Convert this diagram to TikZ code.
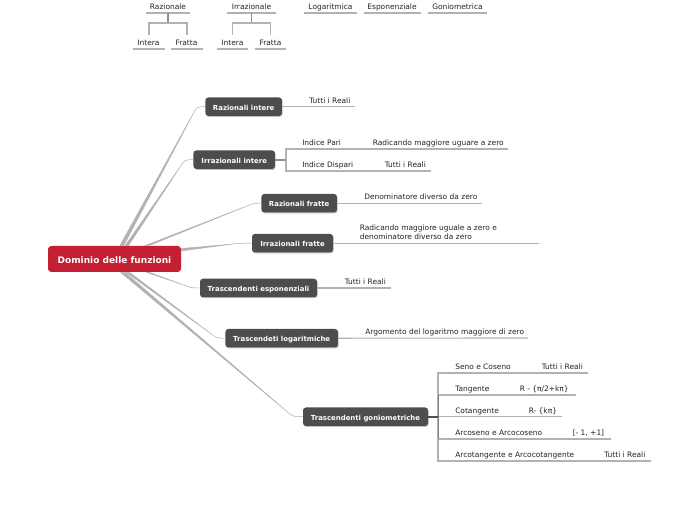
\documentclass[tikz,border=0pt]{standalone}
\usepackage{fontspec}
\setmainfont{DejaVu Sans}
\usetikzlibrary{calc,shadows}
\definecolor{rootred}{HTML}{C41F33}
\definecolor{boxgray}{HTML}{4D4D4D}
\definecolor{linegray}{HTML}{B2B2B2}
\definecolor{txt}{HTML}{222222}
\def\pxu{0.75pt}
\tikzset{
  mainbox/.style={fill=boxgray,text=white,rounded corners=2.2pt,inner sep=0pt,
    text height=5.6pt,text depth=0.2pt,
    font=\bfseries\fontsize{5.2}{6}\selectfont,
    drop shadow={shadow xshift=0.5pt,shadow yshift=-0.7pt,opacity=.25,fill=black}},
  rootbox/.style={fill=rootred,text=white,rounded corners=2.5pt,inner sep=0pt,
    text height=6.4pt,text depth=0pt,
    font=\bfseries\fontsize{6.75}{8}\selectfont},
  leaf/.style={anchor=mid west,inner sep=0pt,text=txt,font=\fontsize{5.6}{6.5}\selectfont},
  topleaf/.style={anchor=mid,inner sep=0pt,text=txt,font=\fontsize{5.6}{6.5}\selectfont},
  wire/.style={draw=linegray,line width=0.85pt},
  stem/.style={draw=linegray!80!black,line width=1.4pt},
  taper/.style={fill=linegray,draw=linegray,line width=0.35pt,line join=round}
}
% #1 start on the root, #2 bend, #3 child anchor, #4 half width vector
\newcommand{\taperline}[4]{%
  \path[taper] ($#1+#4$) -- ($#2!6pt!#1$) .. controls #2 .. #3
     .. controls #2 .. ($#2!6pt!#1$) -- ($#1-#4$) -- cycle;}
\begin{document}
\begin{tikzpicture}[x=0.75pt,y=-0.75pt]
\useasboundingbox[fill=white] (0,0) rectangle (697,520);

% root and branches
\node[rootbox,minimum width=133*\pxu,minimum height=26*\pxu] (root) at (114.5,259) {Dominio delle funzioni};
\node[mainbox,minimum width=76.5*\pxu,minimum height=18.5*\pxu] (b1) at (243.7,106.7) {Razionali intere};
\node[mainbox,minimum width=81.5*\pxu,minimum height=18.5*\pxu] (b2) at (234.2,159.7) {Irrazionali intere};
\node[mainbox,minimum width=75.5*\pxu,minimum height=18.5*\pxu] (b3) at (299.2,203.2) {Razionali fratte};
\node[mainbox,minimum width=81*\pxu,minimum height=18.5*\pxu] (b4) at (292.5,243.2) {Irrazionali fratte};
\node[mainbox,minimum width=117*\pxu,minimum height=18.5*\pxu] (b5) at (258.5,288) {Trascendenti esponenziali};
\node[mainbox,minimum width=112.5*\pxu,minimum height=18.5*\pxu] (b6) at (281.7,338.2) {Trascendeti logaritmiche};
\node[mainbox,minimum width=125*\pxu,minimum height=18.5*\pxu] (b7) at (365.5,416.7) {Trascendenti goniometriche};

\taperline{($(root.north west)+(74,0)$)}{(197,106.7)}{(b1.west)}{(1.9,0)}
\taperline{($(root.north west)+(79,0)$)}{(185,159.7)}{(b2.west)}{(1.7,0)}
\taperline{($(root.north west)+(99,0)$)}{(254,203.2)}{(b3.west)}{(1.9,0)}
\taperline{($(root.north east)+(0,4)$)}{(240,243.2)}{(b4.west)}{(0,1.2)}
\taperline{($(root.south west)+(100,0)$)}{(192,288)}{(b5.west)}{(1.4,0)}
\taperline{($(root.south west)+(80,0)$)}{(217,338.2)}{(b6.west)}{(1.7,0)}
\taperline{($(root.south west)+(75,0)$)}{(293,416.7)}{(b7.west)}{(2.2,0)}

% Razionali intere
\node[leaf] (l1) at (309,99.8) {Tutti i Reali};
\coordinate (e1) at (355,106.7);
\draw[wire] (b1.east) -- (e1);

% Irrazionali intere
\coordinate (j2) at (286,159.7);
\coordinate (j2t) at (286,149);
\coordinate (j2b) at (286,171);
\coordinate (e2t) at (508,149);
\coordinate (e2b) at (431,171);
\draw[stem] (b2.east) -- (j2);
\draw[wire] (e2t) -- (j2t) -- (j2b) -- (e2b);
\node[leaf] (l2a) at (302,141.8) {Indice Pari};
\node[leaf] (l2b) at (372.5,141.8) {Radicando maggiore uguare a zero};
\node[leaf] (l2c) at (302,163.8) {Indice Dispari};
\node[leaf] (l2d) at (384.5,163.8) {Tutti i Reali};

% Razionali fratte
\coordinate (e3) at (482,203.2);
\draw[wire] (b3.east) -- (e3);
\node[leaf] (l3) at (364,196.3) {Denominatore diverso da zero};

% Irrazionali fratte
\coordinate (e4) at (539,243.2);
\draw[wire] (b4.east) -- (e4);
\node[leaf] (l4a) at (359.5,227.3) {Radicando maggiore uguale a zero e};
\node[leaf] (l4b) at (359.5,236) {denominatore diverso da zero};

% Esponenziali
\coordinate (e5) at (391,288);
\draw[wire] (b5.east) -- (e5);
\node[leaf] (l5) at (344.5,281.3) {Tutti i Reali};

% Logaritmiche
\coordinate (e6) at (528,338);
\draw[wire] (b6.east) -- (e6);
\node[leaf] (l6) at (365,331) {Argomento del logaritmo maggiore di zero};

% Goniometriche
\coordinate (j7) at (438,416.7);
\coordinate (j7t) at (438,373);
\coordinate (j7b) at (438,461);
\coordinate (j7c) at (438,395);
\coordinate (j7d) at (438,439);
\coordinate (e7a) at (588,373);
\coordinate (e7b) at (576,395);
\coordinate (e7c) at (562,416.7);
\coordinate (e7d) at (611,439);
\coordinate (e7e) at (651,461);
\draw[wire] (e7a) -- (j7t) -- (j7b) -- (e7e);
\draw[wire] (j7c) -- (e7b);
\draw[wire] (j7) -- (e7c);
\draw[wire] (j7d) -- (e7d);
\draw[stem,draw=boxgray] (b7.east) -- (j7);
\draw[draw=boxgray!70,line width=0.75pt] (j7c) -- (j7d);
\node[leaf] (g1a) at (455,365.8) {Seno e Coseno};
\node[leaf] (g1b) at (541.5,365.8) {Tutti i Reali};
\node[leaf] (g2a) at (455,387.8) {Tangente};
\node[leaf] (g2b) at (519.5,387.8) {R - \{π/2+kπ\}};
\node[leaf] (g3a) at (455,409.8) {Cotangente};
\node[leaf] (g3b) at (528.5,409.8) {R- \{kπ\}};
\node[leaf] (g4a) at (455,431.8) {Arcoseno e Arcocoseno};
\node[leaf] (g4b) at (572.5,431.8) {[- 1, +1]};
\node[leaf] (g5a) at (455,453.8) {Arcotangente e Arcocotangente};
\node[leaf] (g5b) at (604,453.8) {Tutti i Reali};

% top group
\node[topleaf] (ta) at (168,5.8) {Razionale};
\node[topleaf] (tb) at (148.5,41.8) {Intera};
\node[topleaf] (tc) at (186.5,41.8) {Fratta};
\node[topleaf] (td) at (251.5,5.8) {Irrazionale};
\node[topleaf] (te) at (232.5,41.8) {Intera};
\node[topleaf] (tf) at (270.5,41.8) {Fratta};
\node[topleaf] (tg) at (330.5,5.8) {Logaritmica};
\node[topleaf] (th) at (392,5.8) {Esponenziale};
\node[topleaf] (ti) at (457.5,5.8) {Goniometrica};

\coordinate (ua1) at (146,13); \coordinate (ua2) at (190,13); \coordinate (ua) at (168,13);
\coordinate (ja) at (168,23); \coordinate (jb) at (149,23); \coordinate (jc) at (187,23);
\coordinate (ub) at (149,35); \coordinate (uc) at (187,35);
\coordinate (ub1) at (133,49); \coordinate (ub2) at (164.5,49);
\coordinate (uc1) at (171,49); \coordinate (uc2) at (202.5,49);
\draw[wire] (ua1) -- (ua2);
\draw[stem] (ua) -- (ja);
\draw[wire] (ub) -- (jb) -- (jc) -- (uc);
\draw[wire] (ub1) -- (ub2);
\draw[wire] (uc1) -- (uc2);

\coordinate (ud1) at (227,13); \coordinate (ud2) at (276,13); \coordinate (ud) at (251.5,13);
\coordinate (jd) at (251.5,23); \coordinate (je) at (232.5,23); \coordinate (jf) at (270.5,23);
\coordinate (ue) at (232.5,35); \coordinate (uf) at (270.5,35);
\coordinate (ue1) at (217,49); \coordinate (ue2) at (248,49);
\coordinate (uf1) at (255,49); \coordinate (uf2) at (286,49);
\draw[wire] (ud1) -- (ud2);
\draw[stem] (ud) -- (jd);
\draw[wire] (ue) -- (je) -- (jf) -- (uf);
\draw[wire] (ue1) -- (ue2);
\draw[wire] (uf1) -- (uf2);

\coordinate (ug1) at (304,13); \coordinate (ug2) at (357,13);
\coordinate (uh1) at (364,13); \coordinate (uh2) at (421,13);
\coordinate (ui1) at (428,13); \coordinate (ui2) at (487,13);
\draw[wire] (ug1) -- (ug2);
\draw[wire] (uh1) -- (uh2);
\draw[wire] (ui1) -- (ui2);
\end{tikzpicture}
\end{document}
